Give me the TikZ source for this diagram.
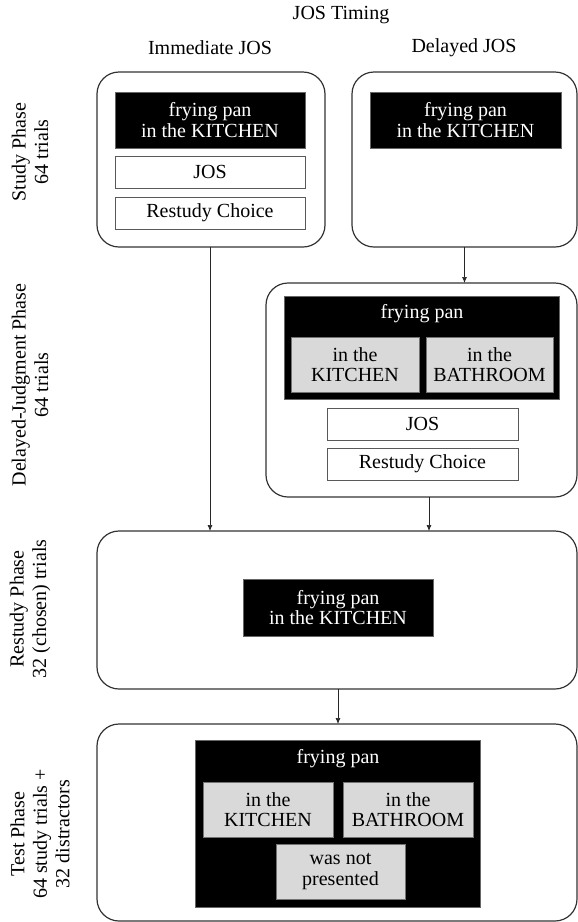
\documentclass[tikz,border=0pt]{standalone}
\usepackage{fontspec}
\setmainfont{Liberation Serif}
\usetikzlibrary{arrows.meta}
\begin{document}
\begin{tikzpicture}[x=1pt,y=-1pt,
  every node/.style={inner sep=0pt, outer sep=0pt, font=\fontsize{20}{20.5}\selectfont, align=center},
  phasebox/.style={draw=black!80, line width=1.2pt, rounded corners=22pt, fill=white},
  blackbox/.style={draw=black!60, line width=0.6pt, fill=black, text=white},
  whitebox/.style={draw=black!65, line width=0.8pt, fill=white},
  graybox/.style={draw=black!55, line width=0.8pt, fill=black!15},
  sidelabel/.style={rotate=90, font=\fontsize{20}{22.5}\selectfont},
  conn/.style={line width=0.7pt, draw=black!85, -{Latex[length=6pt,width=5pt]}}
]
\useasboundingbox (0,0) rectangle (578,922);
% headings
\node (timing) at (341,15) {JOS Timing};
\node (immh) at (210,48) {Immediate JOS};
\node (delh) at (464,48) {Delayed JOS};
% side labels
\node[sidelabel] (lstudy) at (30,152) {Study Phase\\64 trials};
\node[sidelabel] (ldj) at (30,385) {Delayed-Judgment Phase\\64 trials};
\node[sidelabel] (lrest) at (30,609) {Restudy Phase\\32 (chosen) trials};
\node[sidelabel] (ltest) at (40,834) {Test Phase\\64 study trials +\\32 distractors};
% study phase - immediate
\node[phasebox, minimum width=228pt, minimum height=175pt] (isb) at (211,159.5) {};
\node[blackbox, minimum width=190pt, minimum height=56pt] (ib) at (210,120) {frying pan\\in the KITCHEN};
\node[whitebox, minimum width=190pt, minimum height=32pt] (ij) at (210,172) {JOS};
\node[whitebox, minimum width=190pt, minimum height=32pt] (ir) at (210,213) {Restudy Choice};
% study phase - delayed
\node[phasebox, minimum width=225pt, minimum height=175pt] (dsb) at (464.5,159.5) {};
\node[blackbox, minimum width=191pt, minimum height=56pt] (db) at (465.5,120) {frying pan\\in the KITCHEN};
% delayed judgment
\node[phasebox, minimum width=311pt, minimum height=214pt] (djb) at (421.5,390) {};
\node[blackbox, minimum width=275pt, minimum height=103pt] (djk) at (422,347.5) {};
\node[text=white] (djf) at (422,314) {frying pan};
\node[graybox, minimum width=128pt, minimum height=55pt] (djg1) at (355,364.5) {in the\\KITCHEN};
\node[graybox, minimum width=127pt, minimum height=55pt] (djg2) at (489.5,364.5) {in the\\BATHROOM};
\node[whitebox, minimum width=191pt, minimum height=32pt] (djj) at (422.5,424) {JOS};
\node[whitebox, minimum width=191pt, minimum height=32pt] (djr) at (422.5,464) {Restudy Choice};
% restudy
\node[phasebox, minimum width=480pt, minimum height=158pt] (rsb) at (337,610) {};
\node[blackbox, minimum width=190pt, minimum height=57pt] (rb) at (338,607.5) {frying pan\\in the KITCHEN};
% test
\node[phasebox, minimum width=480pt, minimum height=197pt] (tb) at (337,822.5) {};
\node[blackbox, minimum width=285pt, minimum height=167pt] (tk) at (338,823.5) {};
\node[text=white] (tf) at (338,759) {frying pan};
\node[graybox, minimum width=130pt, minimum height=55pt] (tg1) at (268,809.5) {in the\\KITCHEN};
\node[graybox, minimum width=130pt, minimum height=55pt] (tg2) at (408,809.5) {in the\\BATHROOM};
\node[graybox, minimum width=129pt, minimum height=55pt] (tg3) at (340.5,871.5) {was not\\presented};
% connectors
\draw[conn] (isb.south -| ij.south) -- (rsb.north -| ij.south);
\draw[conn] (dsb.south) -- (djb.north -| dsb.south);
\draw[conn] (djb.south -| djk.south) ++(7,0) coordinate (djout) -- (rsb.north -| djout);
\draw[conn] (rsb.south -| rb.south) -- (tb.north -| rb.south);
\end{tikzpicture}
\end{document}
